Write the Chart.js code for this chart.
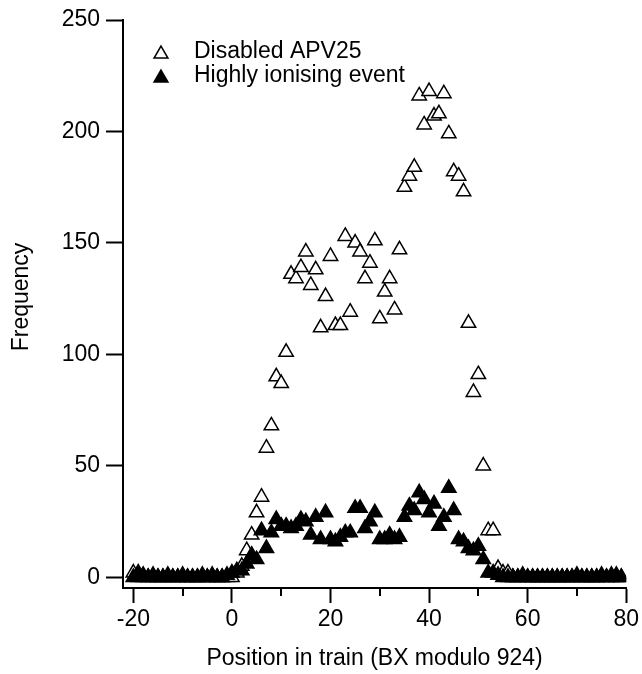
<!DOCTYPE html>
<html>
<head>
<meta charset="utf-8">
<script src="https://cdn.jsdelivr.net/npm/chart.js@4/dist/chart.umd.min.js"></script>
<style>
  html, body { margin: 0; padding: 0; background: #fff; }
  #wrap { width: 642px; height: 674px; }
</style>
</head>
<body>
<div id="wrap"><canvas id="chart" width="642" height="674"></canvas></div>
<script>
// bunch crossing position in the train
const bx = [
  -20, -19, -18, -17, -16, -15, -14, -13, -12, -11, -10, -9, -8, -7, -6, -5, -4, -3, -2, -1,
  0, 1, 2, 3, 4, 5, 6, 7, 8, 9, 10, 11, 12, 13, 14, 15, 16, 17, 18, 19,
  20, 21, 22, 23, 24, 25, 26, 27, 28, 29, 30, 31, 32, 33, 34, 35, 36, 37, 38, 39,
  40, 41, 42, 43, 44, 45, 46, 47, 48, 49, 50, 51, 52, 53, 54, 55, 56, 57, 58, 59,
  60, 61, 62, 63, 64, 65, 66, 67, 68, 69, 70, 71, 72, 73, 74, 75, 76, 77, 78, 79
];

const disabledApv = [
  2, 0, 0, 0, 0, 0, 0, 0, 0, 0, 0, 0, 0, 0, 0, 0, 0, 0, 0, 0,
  0, 2, 5, 12, 19, 29, 36, 58, 68, 90, 87, 101, 136, 134, 139, 146, 131, 138, 112, 126,
  144, 113, 113, 153, 119, 150, 146, 134, 141, 151, 116, 128, 134, 120, 147, 175, 180, 184, 216, 203,
  218, 207, 208, 217, 199, 182, 180, 173, 114, 83, 91, 50, 21, 21, 4, 2, 2, 0, 0, 0,
  0, 0, 0, 0, 0, 0, 0, 0, 0, 0, 0, 0, 0, 0, 0, 0, 0, 0, 0, 0
];

const highlyIonising = [
  0, 2, 1, 0, 1, 0, 0, 1, 0, 0, 1, 0, 0, 0, 1, 0, 1, 0, 0, 1,
  2, 3, 3, 6, 10, 8, 21, 13, 20, 26, 23, 23, 22, 23, 26, 25, 19, 27, 17, 29,
  17, 16, 18, 20, 20, 31, 31, 22, 25, 29, 17, 17, 19, 17, 18, 27, 32, 30, 38, 35,
  29, 33, 23, 27, 40, 30, 17, 16, 13, 12, 14, 8, 2, 2, 1, 0, 0, 0, 0, 1,
  0, 0, 0, 0, 0, 0, 0, 0, 0, 0, 1, 0, 0, 0, 0, 1, 0, 1, 1, 0
];

const xMajorTicks = [-20, 0, 20, 40, 60, 80];
const xMinorTicks = [-10, 10, 30, 50, 70];
const yTicks = [0, 50, 100, 150, 200, 250];

const FONT_FAMILY = '"Liberation Sans", Arial, Helvetica, sans-serif';
const FONT_SIZE = 23;

function toPoints(values) {
  return values.map((v, i) => ({ x: bx[i], y: v }));
}

// short ticks between the labelled ones on the x axis
const minorTicks = {
  id: 'minorTicks',
  afterDraw(chart) {
    const { ctx, chartArea, scales } = chart;
    ctx.save();
    ctx.strokeStyle = '#000';
    ctx.lineWidth = 2;
    ctx.beginPath();
    xMinorTicks.forEach(v => {
      const px = Math.round(scales.x.getPixelForValue(v));
      ctx.moveTo(px, chartArea.bottom);
      ctx.lineTo(px, chartArea.bottom + 8);
    });
    ctx.stroke();
    ctx.restore();
  }
};

// legend in the upper left of the plot, plus the y title
const insetLegend = {
  id: 'insetLegend',
  afterDraw(chart) {
    const ctx = chart.ctx;
    const rows = [52, 76];
    ctx.save();
    ctx.font = FONT_SIZE + 'px ' + FONT_FAMILY;
    ctx.textBaseline = 'middle';
    chart.data.datasets.forEach((ds, i) => {
      ctx.fillStyle = ds.backgroundColor;
      ctx.strokeStyle = ds.borderColor;
      ctx.lineWidth = ds.borderWidth;
      Chart.helpers.drawPoint(ctx, { pointStyle: 'triangle', radius: 8, borderWidth: ds.borderWidth, rotation: 0 }, 161, rows[i] + 2);
      ctx.fillStyle = '#000';
      ctx.textAlign = 'left';
      ctx.fillText(ds.label, 194, rows[i]);
    });

    ctx.translate(22, 297);
    ctx.rotate(-Math.PI / 2);
    ctx.textAlign = 'center';
    ctx.fillText('Frequency', 0, 0);
    ctx.restore();
  }
};

new Chart(document.getElementById('chart'), {
  type: 'scatter',
  data: {
    datasets: [
      {
        label: 'Disabled APV25',
        data: toPoints(disabledApv),
        pointStyle: 'triangle',
        pointRadius: 8.3,
        backgroundColor: '#ffffff',
        borderColor: '#000000',
        borderWidth: 1.5,
        order: 2
      },
      {
        label: 'Highly ionising event',
        data: toPoints(highlyIonising),
        pointStyle: 'triangle',
        pointRadius: 8.3,
        backgroundColor: '#000000',
        borderColor: '#000000',
        borderWidth: 1.5,
        order: 1
      }
    ]
  },
  options: {
    responsive: false,
    animation: false,
    events: [],
    layout: { padding: { left: 0, top: 20, right: 12, bottom: 0 } },
    plugins: {
      legend: { display: false },
      tooltip: { enabled: false }
    },
    scales: {
      x: {
        type: 'linear',
        min: -22.1,
        max: 80,
        afterBuildTicks: s => { s.ticks = xMajorTicks.map(v => ({ value: v })); },
        afterFit: s => { s.height = 86; },
        border: { display: true, color: '#000', width: 2 },
        grid: { drawOnChartArea: false, drawTicks: true, tickLength: 15, tickColor: '#000', tickWidth: 2 },
        ticks: {
          color: '#000',
          padding: 3,
          autoSkip: false,
          maxRotation: 0,
          font: { family: FONT_FAMILY, size: FONT_SIZE }
        },
        title: {
          display: true,
          text: 'Position in train (BX modulo 924)',
          color: '#000',
          padding: { top: 0, bottom: 2 },
          font: { family: FONT_FAMILY, size: FONT_SIZE }
        }
      },
      y: {
        type: 'linear',
        min: -4.8,
        max: 250,
        afterBuildTicks: s => { s.ticks = yTicks.map(v => ({ value: v })); },
        afterFit: s => { s.width = 123; },
        border: { display: true, color: '#000', width: 2 },
        grid: { drawOnChartArea: false, drawTicks: true, tickLength: 17, tickColor: '#000', tickWidth: 2 },
        ticks: {
          color: '#000',
          padding: 6,
          autoSkip: false,
          font: { family: FONT_FAMILY, size: FONT_SIZE }
        }
      }
    }
  },
  plugins: [minorTicks, insetLegend]
});
</script>
</body>
</html>
